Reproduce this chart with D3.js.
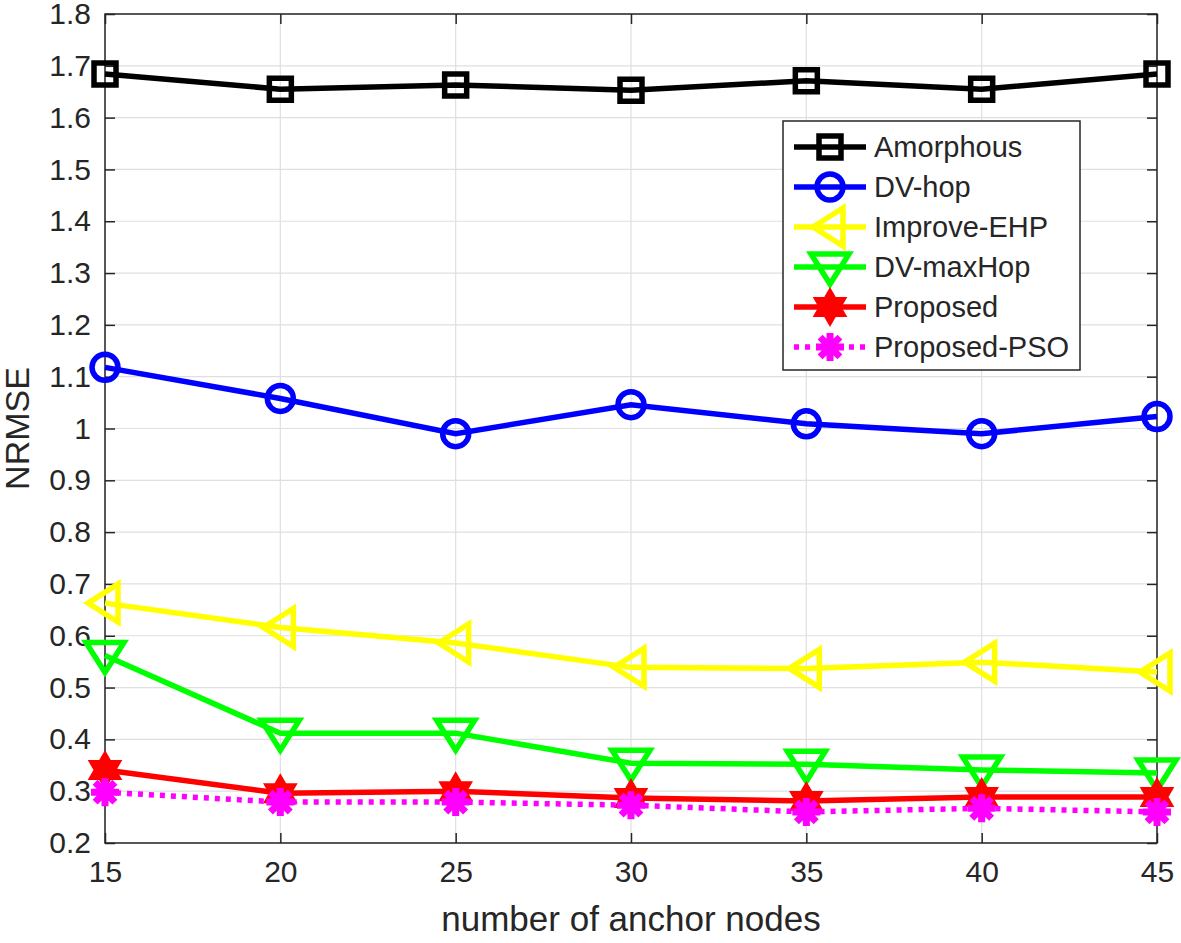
<!DOCTYPE html>
<html lang="en">
<head>
<meta charset="utf-8">
<title>NRMSE vs anchor nodes</title>
<script src="https://cdn.jsdelivr.net/npm/d3@7"></script>
<style>
  body { margin:0; background:#ffffff; font-family: Arial, "Liberation Sans", Helvetica, sans-serif; }
  svg text { fill:#262626; }
</style>
</head>
<body>
<script>
// data
var anchors = [15, 20, 25, 30, 35, 40, 45];
var amorphous   = [1.684, 1.655, 1.663, 1.653, 1.671, 1.655, 1.684];
var dvHop       = [1.118, 1.058, 0.990, 1.046, 1.009, 0.990, 1.023];
var improveEHP  = [0.663, 0.616, 0.586, 0.539, 0.537, 0.549, 0.530];
var dvMaxHop    = [0.562, 0.412, 0.412, 0.354, 0.352, 0.341, 0.335];
var proposed    = [0.341, 0.296, 0.300, 0.287, 0.281, 0.289, 0.289];
var proposedPSO = [0.298, 0.279, 0.279, 0.273, 0.260, 0.267, 0.260];
var yTicks = [0.2, 0.3, 0.4, 0.5, 0.6, 0.7, 0.8, 0.9, 1, 1.1, 1.2, 1.3, 1.4, 1.5, 1.6, 1.7, 1.8];

var series = [
  {name: "Amorphous",    values: amorphous,   color: "#000000", marker: "square"},
  {name: "DV-hop",       values: dvHop,       color: "#0000ff", marker: "circle"},
  {name: "Improve-EHP",  values: improveEHP,  color: "#ffff00", marker: "triLeft"},
  {name: "DV-maxHop",    values: dvMaxHop,    color: "#00ff00", marker: "triDown"},
  {name: "Proposed",     values: proposed,    color: "#ff0000", marker: "hexagram"},
  {name: "Proposed-PSO", values: proposedPSO, color: "#ff00ff", marker: "asterisk", dotted: true}
];

var w = 1181, h = 943;
// plot box (named so they don't clash with window.top)
var padL = 105, padR = 1157, padT = 14, padB = 843;

var svg = d3.select("body").append("svg").attr("width", w).attr("height", h);

var xScale = d3.scaleLinear().domain([15, 45]).range([padL, padR]);
var yScale = d3.scaleLinear().domain([0.2, 1.8]).range([padB, padT]);

// grid
svg.append("g").selectAll("line").data(anchors).enter().append("line")
  .attr("x1", function(d){ return xScale(d); }).attr("x2", function(d){ return xScale(d); })
  .attr("y1", padT).attr("y2", padB)
  .attr("stroke", "#dfdfdf").attr("stroke-width", 1.2);
svg.append("g").selectAll("line").data(yTicks).enter().append("line")
  .attr("y1", function(d){ return yScale(d); }).attr("y2", function(d){ return yScale(d); })
  .attr("x1", padL).attr("x2", padR)
  .attr("stroke", "#dfdfdf").attr("stroke-width", 1.2);

// axes (ticks inward, box all round)
var fmt = function(d){ return String(+d.toFixed(1)); };
var xAxis = d3.axisBottom(xScale).tickValues(anchors).tickSizeInner(-10).tickSizeOuter(0).tickPadding(18);
var yAxis = d3.axisLeft(yScale).tickValues(yTicks).tickFormat(fmt).tickSizeInner(-10).tickSizeOuter(0).tickPadding(14);
var xTop = d3.axisTop(xScale).tickValues(anchors).tickSizeInner(-10).tickSizeOuter(0).tickFormat("");
var yRight = d3.axisRight(yScale).tickValues(yTicks).tickSizeInner(-10).tickSizeOuter(0).tickFormat("");

function styleAxis(g) {
  g.select(".domain").remove();
  g.selectAll(".tick line").attr("stroke", "#262626").attr("stroke-width", 1.5);
  g.selectAll("text").attr("font-size", 30).attr("font-family", "Arial, 'Liberation Sans', sans-serif").attr("fill", "#262626");
}
svg.append("g").attr("transform", "translate(0," + padB + ")").call(xAxis).call(styleAxis);
svg.append("g").attr("transform", "translate(" + padL + ",0)").call(yAxis).call(styleAxis);
svg.append("g").attr("transform", "translate(0," + padT + ")").call(xTop).call(styleAxis);
svg.append("g").attr("transform", "translate(" + padR + ",0)").call(yRight).call(styleAxis);

svg.append("rect").attr("x", padL).attr("y", padT).attr("width", padR - padL).attr("height", padB - padT)
  .attr("fill", "none").attr("stroke", "#262626").attr("stroke-width", 1.5);

// axis titles
svg.append("text").attr("x", (padL + padR) / 2).attr("y", 931).attr("text-anchor", "middle")
  .attr("font-size", 35).text("number of anchor nodes");
svg.append("text").attr("transform", "translate(29," + ((padT + padB) / 2) + ") rotate(-90)")
  .attr("text-anchor", "middle").attr("font-size", 34).text("NRMSE");

// markers
function markerPath(type) {
  var p = d3.path();
  if (type === "square") { p.rect(-11, -11, 22, 22); }
  else if (type === "circle") { p.moveTo(13, 0); p.arc(0, 0, 13, 0, 2 * Math.PI); }
  else if (type === "triLeft") { p.moveTo(-17, 0); p.lineTo(13, -19); p.lineTo(13, 19); p.closePath(); }
  else if (type === "triDown") { p.moveTo(0, 17); p.lineTo(-19, -13); p.lineTo(19, -13); p.closePath(); }
  else if (type === "hexagram") {
    var r = 18;
    for (var k = 0; k < 2; k++) {
      var off = k === 0 ? -Math.PI / 2 : Math.PI / 2;
      for (var i = 0; i < 3; i++) {
        var a = off + i * 2 * Math.PI / 3;
        if (i === 0) p.moveTo(r * Math.cos(a), r * Math.sin(a)); else p.lineTo(r * Math.cos(a), r * Math.sin(a));
      }
      p.closePath();
    }
  }
  else if (type === "asterisk") {
    var rr = 14;
    for (var j = 0; j < 4; j++) {
      var b = j * Math.PI / 4;
      p.moveTo(-rr * Math.cos(b), -rr * Math.sin(b)); p.lineTo(rr * Math.cos(b), rr * Math.sin(b));
    }
  }
  return p.toString();
}

function drawMarker(g, s, x, y) {
  var m = g.append("path").attr("d", markerPath(s.marker)).attr("transform", "translate(" + x + "," + y + ")")
    .attr("stroke", s.color).attr("stroke-width", 5.5).attr("fill", "none").attr("stroke-linejoin", "miter");
  if (s.marker === "hexagram") { m.attr("fill", s.color).attr("stroke-width", 2); }
  if (s.marker === "asterisk") { m.attr("stroke-width", 7); }
}

var line = d3.line().x(function(d, i){ return xScale(anchors[i]); }).y(function(d){ return yScale(d); });

series.forEach(function(s) {
  var g = svg.append("g");
  g.append("path").datum(s.values).attr("d", line).attr("fill", "none")
    .attr("stroke", s.color).attr("stroke-width", 5.5)
    .attr("stroke-dasharray", s.dotted ? "5,6" : null);
  s.values.forEach(function(v, i) { drawMarker(g, s, xScale(anchors[i]), yScale(v)); });
});

// legend
var lg = svg.append("g");
lg.append("rect").attr("x", 783).attr("y", 121).attr("width", 297).attr("height", 249)
  .attr("fill", "#ffffff").attr("stroke", "#262626").attr("stroke-width", 1.5);
series.forEach(function(s, i) {
  var y = 147 + i * 40;
  lg.append("line").attr("x1", 794).attr("x2", 866).attr("y1", y).attr("y2", y)
    .attr("stroke", s.color).attr("stroke-width", 5.5).attr("stroke-dasharray", s.dotted ? "5,6" : null);
  drawMarker(lg, s, 830, y);
  lg.append("text").attr("x", 874).attr("y", y + 10).attr("font-size", 29).text(s.name);
});
</script>
</body>
</html>
